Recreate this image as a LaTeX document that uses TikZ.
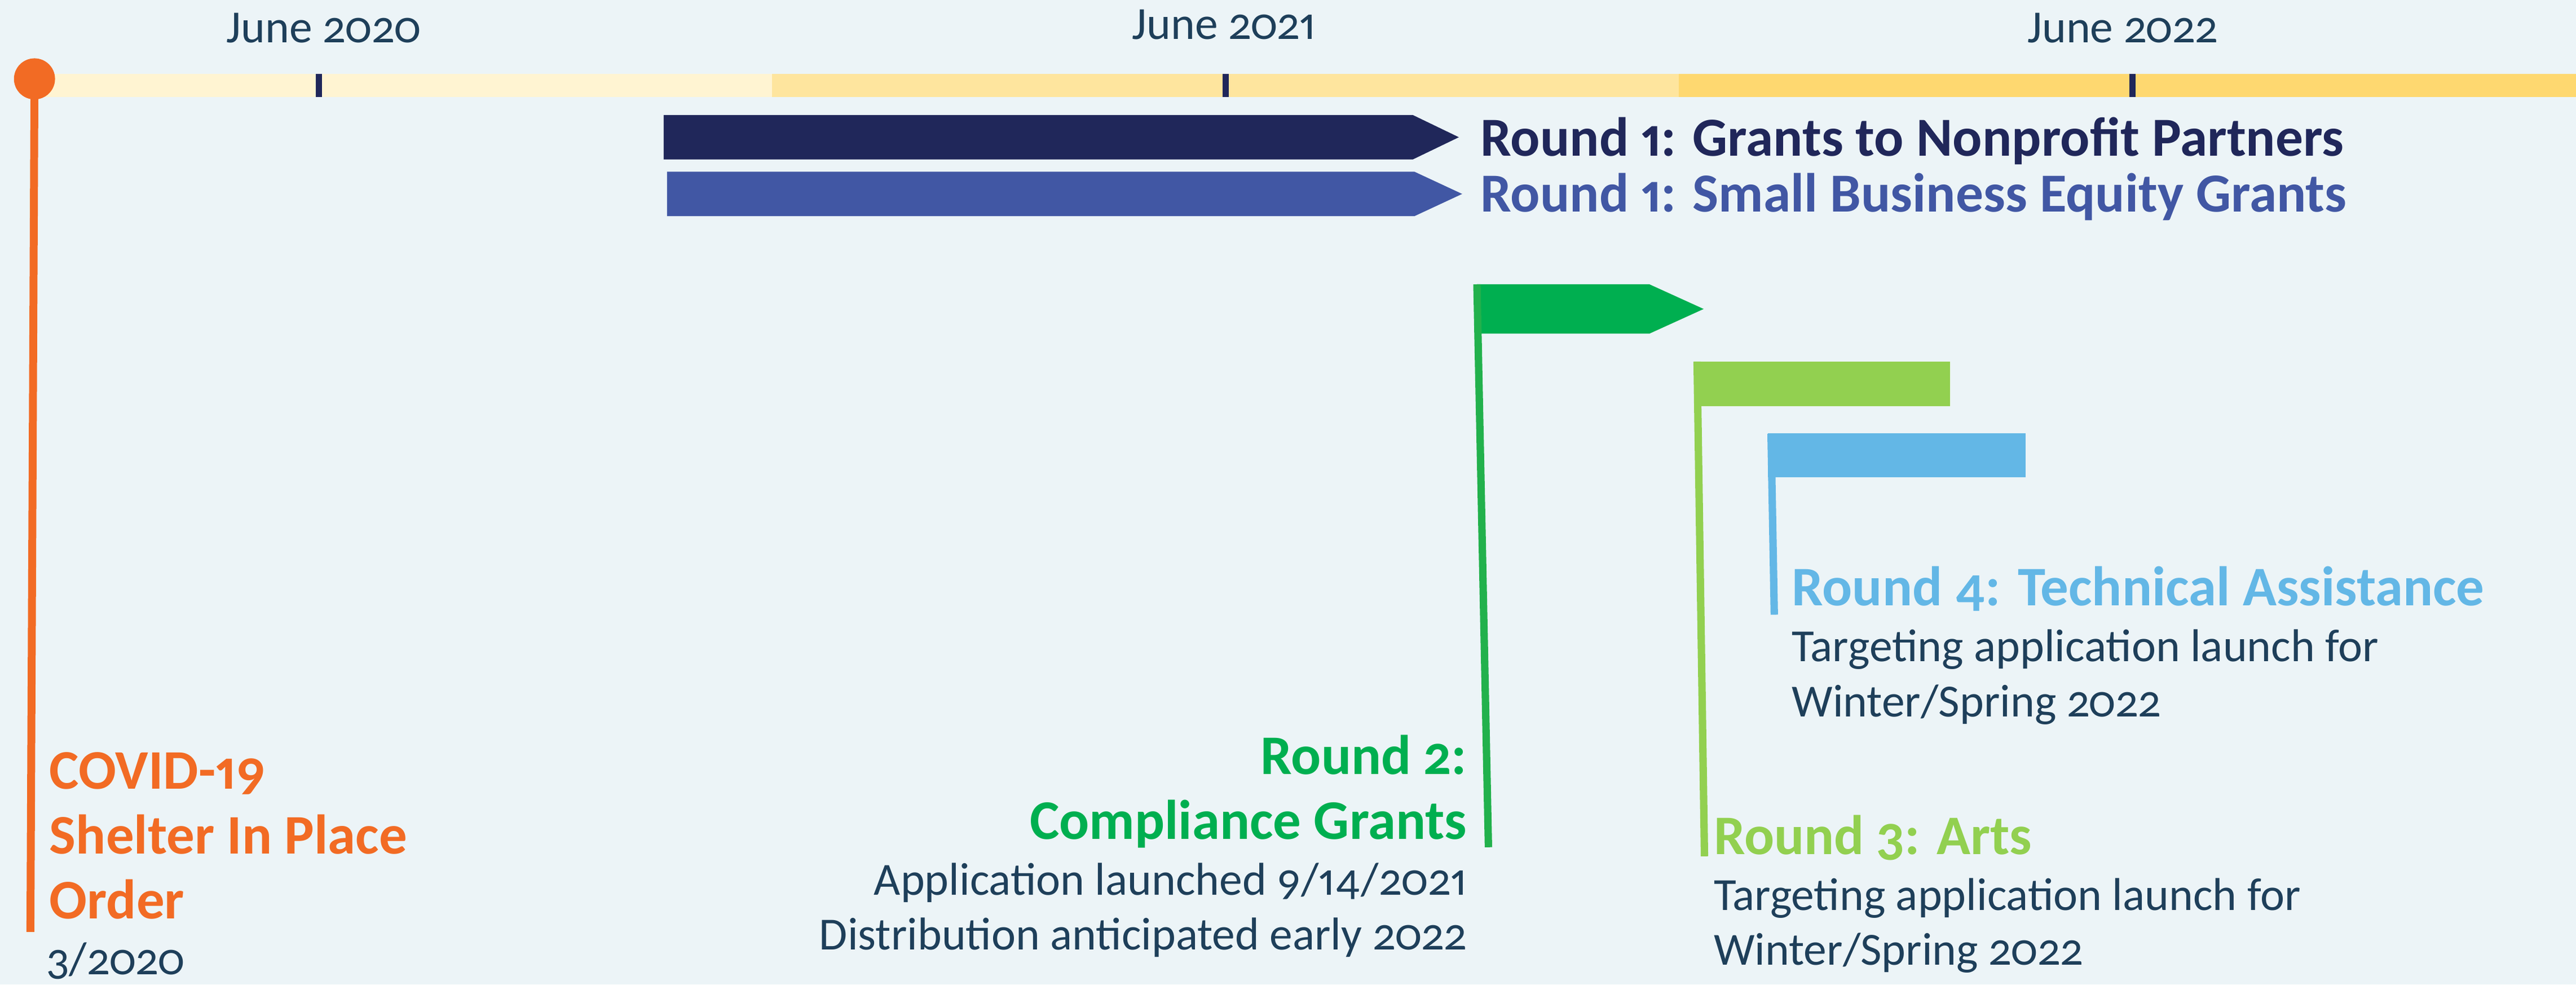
\documentclass[tikz,border=0pt]{standalone}
\usepackage{fontspec}
\setmainfont{Carlito}[Numbers={OldStyle,Proportional}]
\definecolor{bgblue}{HTML}{ECF4F7}
\definecolor{barA}{HTML}{FFF4D2}
\definecolor{barB}{HTML}{FEE59E}
\definecolor{barC}{HTML}{FED870}
\definecolor{navy}{HTML}{20275A}
\definecolor{royal}{HTML}{4157A4}
\definecolor{covid}{HTML}{F26B24}
\definecolor{green}{HTML}{00AF50}
\definecolor{greenpole}{HTML}{22B14C}
\definecolor{lime}{HTML}{92D050}
\definecolor{sky}{HTML}{63B7E6}
\definecolor{txtdark}{HTML}{1E3F5A}

\begin{document}
\begin{tikzpicture}[x=1pt,y=-1pt,
  lbl/.style={inner sep=0pt,font=\fontsize{28}{33}\selectfont,text=txtdark},
  ttl/.style={inner sep=0pt,font=\fontsize{34}{39}\selectfont\bfseries},
  pole/.style={line width=4.5pt}]
\fill[bgblue] (0,0) rectangle (1568,599);
\useasboundingbox (0,0) rectangle (1568,599);

%% timeline
\fill[barA] (20,45) rectangle (470,59);
\fill[barB] (470,45) rectangle (1022,59);
\fill[barC] (1022,45) rectangle (1568,59);
\foreach \x in {194,746,1298}
  \draw[navy,line width=3.8pt] (\x,45) -- (\x,59);
\node[lbl,anchor=base] (jun20) at (197,26) {June 2020};
\node[lbl,anchor=base] (jun21) at (745,24) {June 2021};
\node[lbl,anchor=base] (jun22) at (1292,26) {June 2022};

%% shelter in place
\coordinate (sipbot) at (18.5,567);
\node[circle,fill=covid,minimum size=25pt,inner sep=0pt] (sip) at (21,48) {};
\draw[covid,line width=4.8pt] (sip.center) -- (sipbot);
\node[ttl,text=covid,anchor=base west] (sip1) at (30,480) {COVID-19};
\node[ttl,text=covid,anchor=base west] (sip2) at (30,519.5) {Shelter In Place};
\node[ttl,text=covid,anchor=base west] (sip3) at (30,559) {Order};
\node[lbl,anchor=base west] (sipdate) at (28,593) {3/2020};

%% round 1
\fill[navy] (404,70) -- (860,70) -- (888,83.5) -- (860,97) -- (404,97) -- cycle;
\fill[royal] (406,104.5) -- (861,104.5) -- (890,118) -- (861,131.5) -- (406,131.5) -- cycle;
\node[ttl,font=\fontsize{33.5}{38}\selectfont\bfseries,text=navy,anchor=base west] (r1a) at (901,95) {Round 1: Grants to Nonprofit Partners};
\node[ttl,font=\fontsize{33.5}{38}\selectfont\bfseries,text=royal,anchor=base west] (r1b) at (901,129) {Round 1: Small Business Equity Grants};

%% round 2
\coordinate (r2top) at (899,173);
\coordinate (r2bot) at (906,515.5);
\fill[green] (899,173) -- (1004,173) -- (1037,188) -- (1004,203) -- (899,203) -- cycle;
\draw[greenpole,pole] (r2top) -- (r2bot);
\node[ttl,text=green,anchor=base east] (r2a) at (893,471) {Round 2:};
\node[ttl,text=green,anchor=base east] (r2b) at (893,510.5) {Compliance Grants};
\node[lbl,anchor=base east] (r2c) at (893,544.5) {Application launched 9/14/2021};
\node[lbl,anchor=base east] (r2d) at (893,578) {Distribution anticipated early 2022};

%% round 3
\coordinate (r3top) at (1033,220);
\coordinate (r3bot) at (1037.5,521);
\fill[lime] (1031,220) rectangle (1187,247);
\draw[lime,pole] (r3top) -- (r3bot);
\node[ttl,text=lime,anchor=base west] (r3a) at (1043,520) {Round 3: Arts};
\node[lbl,anchor=base west] (r3b) at (1043,554) {Targeting application launch for};
\node[lbl,anchor=base west] (r3c) at (1043,587) {Winter/Spring 2022};

%% round 4
\coordinate (r4top) at (1078,264);
\coordinate (r4bot) at (1080,374);
\fill[sky] (1076,263.5) rectangle (1233,290.5);
\draw[sky,pole] (r4top) -- (r4bot);
\node[ttl,text=sky,anchor=base west] (r4a) at (1090.5,368.5) {Round 4: Technical Assistance};
\node[lbl,anchor=base west] (r4b) at (1090.5,402.5) {Targeting application launch for};
\node[lbl,anchor=base west] (r4c) at (1090.5,436) {Winter/Spring 2022};
\end{tikzpicture}
\end{document}
